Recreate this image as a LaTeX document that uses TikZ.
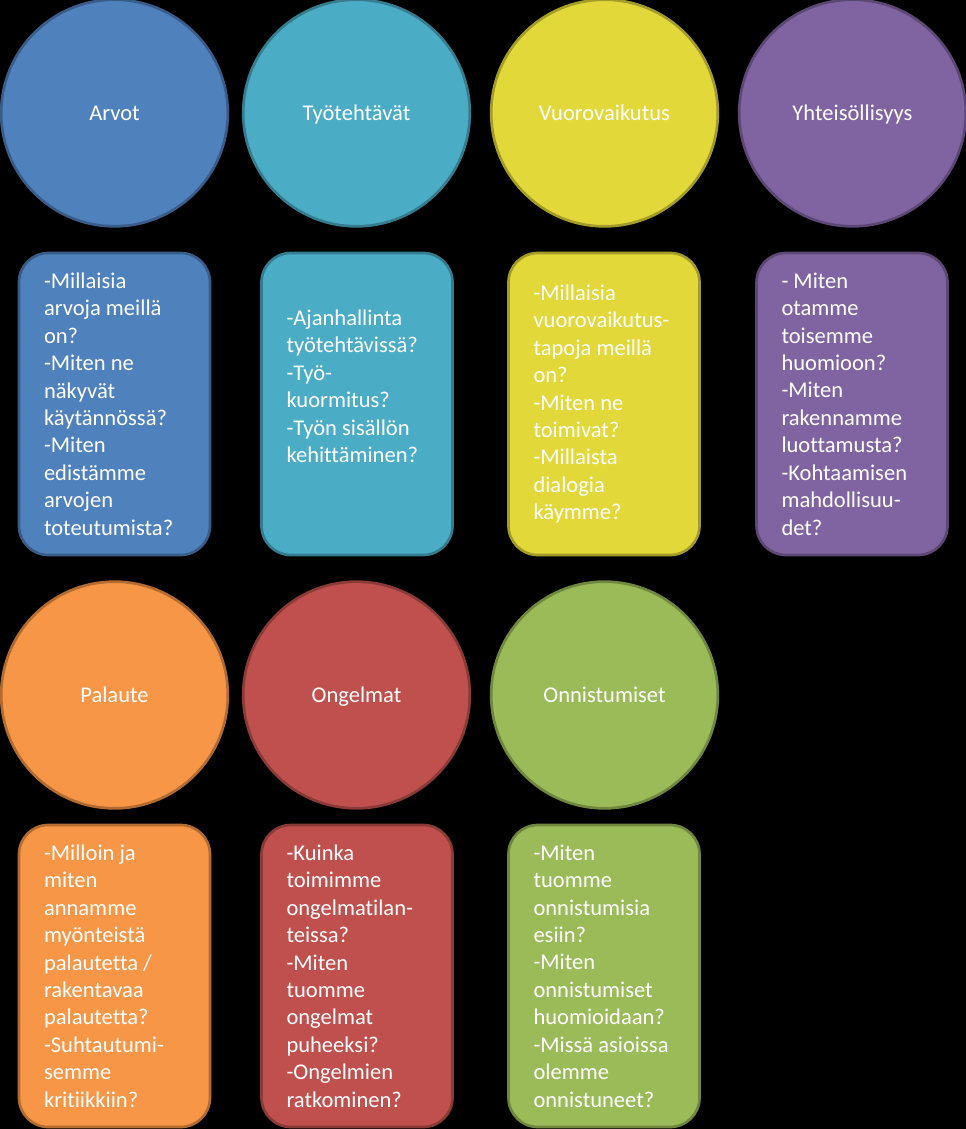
\documentclass[tikz,border=0pt]{standalone}
\usepackage{fontspec}
\setmainfont{Carlito}[Ligatures={NoCommon}]
\definecolor{arvotblue}{HTML}{4F81BD}
\definecolor{tyoaqua}{HTML}{4BACC6}
\definecolor{vuoroyellow}{HTML}{E3D839}
\definecolor{yhteispurple}{HTML}{8064A2}
\definecolor{palautorange}{HTML}{F79646}
\definecolor{ongelmared}{HTML}{C0504D}
\definecolor{onnistgreen}{HTML}{9BBB59}
\tikzset{
  theme/.style={draw=#1!72!black, fill=#1, line width=2pt, text=white,
    font=\fontsize{16.9}{20.6}\selectfont},
  topic/.style={theme=#1, circle, minimum size=170pt, inner sep=0pt,
    text height=11pt, text depth=0pt},
  qbox/.style={theme=#1, rounded corners=22pt, minimum width=143.25pt,
    minimum height=226.5pt, text width=105.75pt, inner xsep=18.75pt, align=flush left},
}

\begin{document}
\begin{tikzpicture}[x=0.75pt,y=-0.75pt]
    \useasboundingbox (0,0) rectangle (966,1129);
    \fill[black] (0,0) rectangle (966,1129);
    % first row
    \node[topic=arvotblue] at (114.5,113) (arvot) {Arvot};
    \node[topic=tyoaqua] at (356.5,113) (tyo) {Työtehtävät};
    \node[topic=vuoroyellow] at (604.5,113) (vuoro) {Vuorovaikutus};
    \node[topic=yhteispurple] at (852.5,113) (yhteis) {Yhteisöllisyys};
    \node[qbox=arvotblue] at (114.5,404) (arvotq) {-Millaisia\\arvoja meillä\\on?\\-Miten ne\\näkyvät\\käytännössä?\\-Miten\\edistämme\\arvojen\\toteutumista?};
    \node[qbox=tyoaqua] at (357,404) (tyoq) {-Ajanhallinta\\työtehtävissä?\\-Työ-\\kuormitus?\\-Työn sisällön\\kehittäminen?\\\strut};
    \node[qbox=vuoroyellow] at (604,404) (vuoroq) {-Millaisia\\vuorovaikutus-\\tapoja meillä\\on?\\-Miten ne\\toimivat?\\-Millaista\\dialogia\\käymme?};
    \node[qbox=yhteispurple] at (852,404) (yhteisq) {- Miten\\otamme\\toisemme\\huomioon?\\-Miten\\rakennamme\\luottamusta?\\-Kohtaamisen\\mahdollisuu-\\det?};
    % second row
    \node[topic=palautorange] at (114.5,695) (palaute) {Palaute};
    \node[topic=ongelmared] at (356.5,695) (ongelmat) {Ongelmat};
    \node[topic=onnistgreen] at (604.5,695) (onnist) {Onnistumiset};
    \node[qbox=palautorange] at (114.5,976) (palauteq) {-Milloin ja\\miten\\annamme\\myönteistä\\palautetta /\\rakentavaa\\palautetta?\\-Suhtautumi-\\semme\\kritiikkiin?};
    \node[qbox=ongelmared] at (357,976) (ongelmatq) {-Kuinka\\toimimme\\ongelmatilan-\\teissa?\\-Miten\\tuomme\\ongelmat\\puheeksi?\\-Ongelmien\\ratkominen?};
    \node[qbox=onnistgreen] at (604,976) (onnistq) {-Miten\\tuomme\\onnistumisia\\esiin?\\-Miten\\onnistumiset\\huomioidaan?\\-Missä asioissa\\olemme\\onnistuneet?};
\end{tikzpicture}
\end{document}
